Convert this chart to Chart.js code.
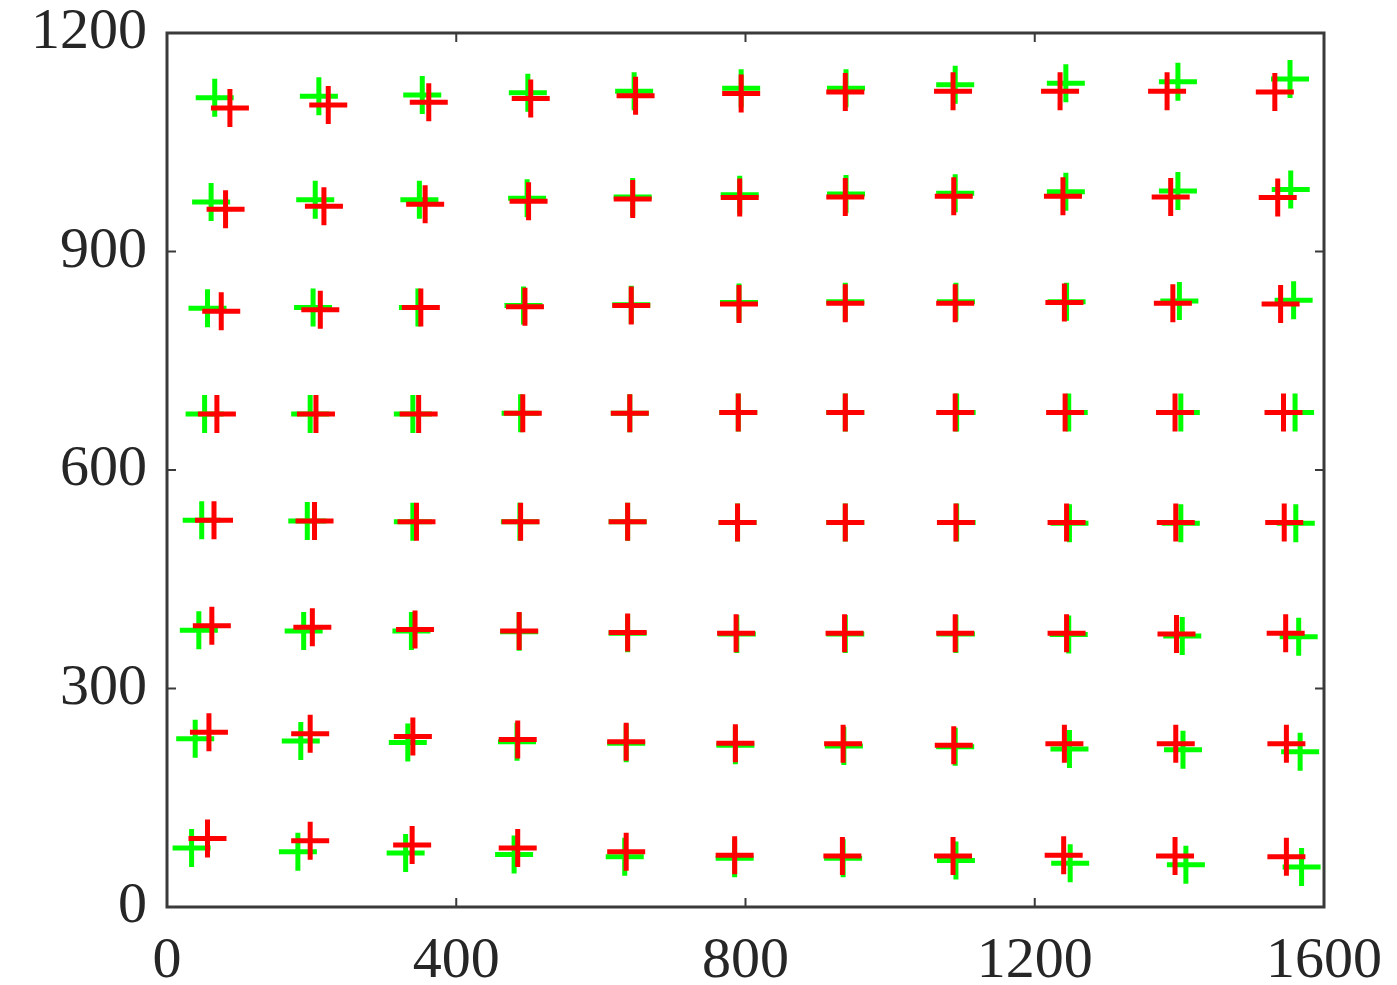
<!DOCTYPE html>
<html>
<head>
<meta charset="utf-8">
<script src="https://cdn.jsdelivr.net/npm/chart.js@4/dist/chart.umd.min.js"></script>
<style>
  body { margin: 0; background: #fff; }
  #wrap { width: 1397px; height: 985px; }
</style>
</head>
<body>
<div id="wrap"><canvas id="plot" width="1397" height="985"></canvas></div>
<script>
// Tick values
const xTicks = [0, 400, 800, 1200, 1600];
const yTicks = [0, 300, 600, 900, 1200];

// Red markers, one line per grid row (top to bottom)
const redX = [
  87, 223, 362, 503, 648, 794, 938, 1087, 1235, 1383, 1532,
  81, 217, 357, 500, 644, 792, 938, 1088, 1239, 1388, 1536,
  75, 212, 351, 495, 642, 791, 938, 1090, 1241, 1391, 1540,
  69, 206, 348, 492, 640, 790, 938, 1090, 1242, 1394, 1544,
  65, 204, 345, 489, 637, 789, 938, 1091, 1244, 1395, 1545,
  62, 201, 343, 487, 637, 787, 937, 1090, 1244, 1396, 1547,
  58, 198, 340, 485, 635, 786, 935, 1088, 1241, 1395, 1548,
  56, 198, 339, 485, 635, 785, 934, 1087, 1240, 1394, 1548
];
const redY = [
  1097, 1101, 1105, 1110, 1114, 1117, 1119, 1120, 1120, 1120, 1119,
  958, 962, 965, 969, 972, 974, 975, 976, 976, 975, 974,
  818, 820, 823, 824, 826, 828, 829, 829, 830, 829, 828,
  677, 677, 677, 678, 678, 679, 679, 679, 679, 679, 679,
  531, 530, 529, 529, 529, 528, 528, 528, 528, 528, 528,
  386, 384, 381, 379, 377, 376, 376, 376, 376, 375, 376,
  240, 238, 234, 230, 227, 225, 224, 222, 224, 224, 224,
  94, 91, 85, 81, 76, 71, 70, 70, 71, 70, 69
];

// Green markers
const greenX = [
  66, 210, 353, 499, 646, 794, 939, 1090, 1243, 1398, 1553,
  61, 205, 349, 498, 644, 792, 939, 1090, 1243, 1398, 1554,
  56, 202, 347, 493, 642, 791, 938, 1091, 1244, 1400, 1558,
  52, 198, 340, 489, 640, 790, 938, 1092, 1247, 1402, 1560,
  48, 194, 340, 488, 637, 789, 938, 1092, 1248, 1402, 1561,
  44, 189, 338, 487, 637, 788, 938, 1091, 1247, 1404, 1565,
  39, 185, 333, 484, 635, 786, 936, 1090, 1248, 1405, 1567,
  34, 181, 330, 480, 633, 785, 935, 1091, 1249, 1409, 1569
];
const greenY = [
  1111, 1113, 1115, 1118, 1120, 1124, 1124, 1129, 1131, 1133, 1137,
  968, 971, 971, 973, 975, 978, 979, 980, 982, 983, 985,
  822, 823, 823, 826, 827, 830, 831, 831, 831, 832, 833,
  677, 677, 677, 678, 678, 679, 679, 679, 679, 679, 679,
  531, 530, 529, 529, 529, 528, 528, 528, 527, 527, 527,
  380, 379, 379, 378, 376, 375, 375, 375, 374, 372, 371,
  231, 228, 226, 227, 225, 222, 221, 220, 217, 216, 213,
  81, 76, 74, 72, 69, 67, 67, 64, 60, 58, 55
];

function toPoints(xs, ys) {
  return xs.map((x, i) => ({ x: x, y: ys[i] }));
}

// box around the plot area with inward ticks on all four sides
const boxPlugin = {
  id: 'box',
  afterDraw(chart) {
    const ctx = chart.ctx;
    const a = chart.chartArea;
    const xs = chart.scales.x, ys = chart.scales.y;
    const len = 9;
    ctx.save();
    ctx.strokeStyle = '#3a3a3a';
    ctx.lineWidth = 3;
    ctx.strokeRect(a.left, a.top, a.right - a.left, a.bottom - a.top);
    ctx.lineWidth = 2;
    ctx.beginPath();
    xTicks.forEach(v => {
      const px = xs.getPixelForValue(v);
      ctx.moveTo(px, a.bottom); ctx.lineTo(px, a.bottom - len);
      ctx.moveTo(px, a.top); ctx.lineTo(px, a.top + len);
    });
    yTicks.forEach(v => {
      const py = ys.getPixelForValue(v);
      ctx.moveTo(a.left, py); ctx.lineTo(a.left + len, py);
      ctx.moveTo(a.right, py); ctx.lineTo(a.right - len, py);
    });
    ctx.stroke();
    ctx.restore();
  }
};

const tickFont = { family: '"Liberation Serif", "Times New Roman", serif', size: 58, lineHeight: 1 };

new Chart(document.getElementById('plot'), {
  type: 'scatter',
  data: {
    datasets: [
      {
        label: 'red',
        data: toPoints(redX, redY),
        pointStyle: 'cross',
        pointRadius: 19,
        borderWidth: 5,
        borderColor: '#ff0000',
        backgroundColor: '#ff0000'
      },
      {
        label: 'green',
        data: toPoints(greenX, greenY),
        pointStyle: 'cross',
        pointRadius: 19,
        borderWidth: 5,
        borderColor: '#00ff00',
        backgroundColor: '#00ff00'
      }
    ]
  },
  options: {
    responsive: false,
    animation: false,
    events: [],
    layout: { padding: { top: 33, right: 73, left: 0, bottom: 0 } },
    plugins: { legend: { display: false }, tooltip: { enabled: false } },
    scales: {
      x: {
        type: 'linear',
        min: 0, max: 1600,
        afterBuildTicks: s => { s.ticks = xTicks.map(v => ({ value: v })); },
        afterFit: s => { s.height = 78; s.paddingLeft = 0; s.paddingRight = 0; },
        grid: { display: false, drawTicks: false },
        border: { display: false },
        ticks: { font: tickFont, color: '#262626', padding: 26, maxRotation: 0, callback: v => String(v) }
      },
      y: {
        type: 'linear',
        min: 0, max: 1200,
        afterBuildTicks: s => { s.ticks = yTicks.map(v => ({ value: v })); },
        afterFit: s => { s.width = 167; s.paddingTop = 0; s.paddingBottom = 0; },
        grid: { display: false, drawTicks: false },
        border: { display: false },
        ticks: { font: tickFont, color: '#262626', padding: 20, callback: v => String(v) }
      }
    }
  },
  plugins: [boxPlugin]
});
</script>
</body>
</html>
